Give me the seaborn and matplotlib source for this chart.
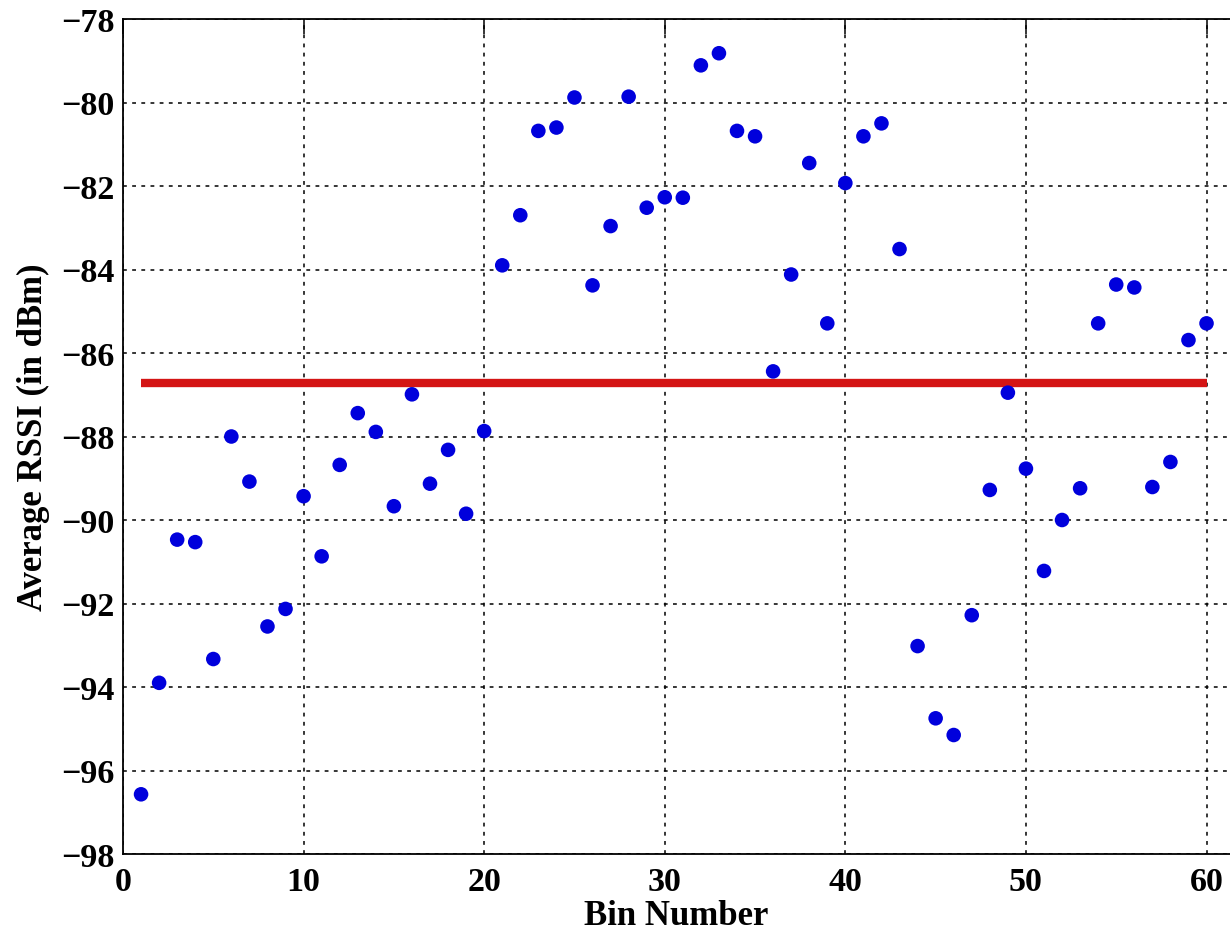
import matplotlib
matplotlib.use("Agg")
import matplotlib.pyplot as plt
import seaborn as sns
import pandas as pd

# ---- data ----
bins = list(range(1, 61))
rssi = [-96.57, -93.90, -90.47, -90.53, -93.33, -88.00, -89.08, -92.55, -92.13, -89.43,
        -90.87, -88.68, -87.44, -87.89, -89.67, -86.99, -89.13, -88.32, -89.85, -87.87,
        -83.90, -82.70, -80.68, -80.60, -79.88, -84.38, -82.96, -79.86, -82.52, -82.27,
        -82.28, -79.11, -78.82, -80.68, -80.81, -86.44, -84.12, -81.45, -85.29, -81.93,
        -80.81, -80.50, -83.51, -93.02, -94.75, -95.15, -92.28, -89.28, -86.95, -88.77,
        -91.22, -90.00, -89.24, -85.29, -84.36, -84.43, -89.21, -88.61, -85.69, -85.29]
mean_x = [1, 60]
mean_y = [-86.71, -86.71]
xticks = [0, 10, 20, 30, 40, 50, 60]
yticks = [-98, -96, -94, -92, -90, -88, -86, -84, -82, -80, -78]
xlabel = "Bin Number"
ylabel = "Average RSSI (in dBm)"

df = pd.DataFrame({"bin": bins, "rssi": rssi})
df_mean = pd.DataFrame({"bin": mean_x, "rssi": mean_y})

sns.set_style("white")
plt.rcParams["font.family"] = ["Liberation Serif", "DejaVu Serif"]
plt.rcParams["font.weight"] = "bold"
plt.rcParams["axes.unicode_minus"] = True

fig = plt.figure(figsize=(12.3, 9.37), dpi=100)
ax = fig.add_axes([123 / 1230, 82 / 937, 1 - 123 / 1230, 835 / 937])

sns.scatterplot(data=df, x="bin", y="rssi", ax=ax, color="#0000dc", s=110,
                edgecolor="none", linewidth=0, zorder=3)
sns.lineplot(data=df_mean, x="bin", y="rssi", ax=ax, color="#d41515", linewidth=6,
             solid_capstyle="butt", zorder=2)

ax.set_xlim(0, 61.3)
ax.set_ylim(-98, -78)
ax.set_xticks(xticks)
ax.set_yticks(yticks)
ax.set_xticklabels([str(t) for t in xticks], fontsize=24.5, fontweight="bold")
ax.set_yticklabels([f"\u2212{abs(t)}" for t in yticks], fontsize=24.5, fontweight="bold")

ax.grid(True, color="black", linestyle=(0, (2.5, 3.5)), linewidth=1.1)
ax.tick_params(axis="both", direction="in", length=11, width=1.1, color="black",
               top=True, right=False, labelcolor="black")
ax.tick_params(axis="x", pad=9)
ax.tick_params(axis="y", pad=6)

for side in ["left", "bottom", "top"]:
    ax.spines[side].set_visible(True)
    ax.spines[side].set_color("black")
    ax.spines[side].set_linewidth(1.3)
ax.spines["right"].set_visible(False)

ax.set_xlabel(xlabel, fontsize=25, fontweight="bold", labelpad=1, color="black")
ax.set_ylabel(ylabel, fontsize=25, fontweight="bold", labelpad=8, color="black")

fig.savefig("out.png", dpi=100)
